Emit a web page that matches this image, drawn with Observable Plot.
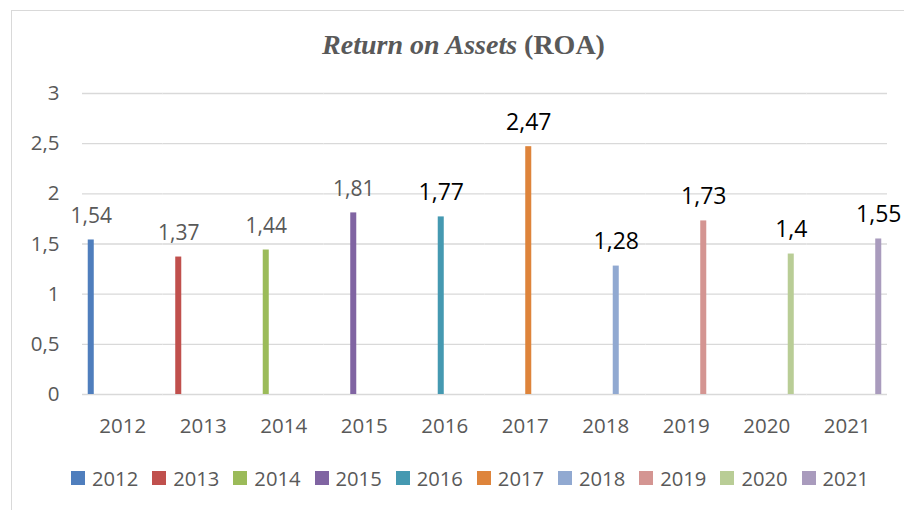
<!DOCTYPE html>
<html><head><meta charset="utf-8">
<script src="https://cdn.jsdelivr.net/npm/d3@7"></script>
<script src="https://cdn.jsdelivr.net/npm/@observablehq/plot@0.6"></script>
<style>
body{margin:0;background:#fff;width:904px;height:510px;overflow:hidden;position:relative;font-family:"Open Sans",sans-serif;}
#frame{position:absolute;left:11px;top:10px;width:920px;height:520px;border:1px solid #d9d9d9;box-sizing:border-box;}
#title{position:absolute;left:0;width:927px;top:31px;text-align:center;font-family:"Liberation Serif","Times New Roman",serif;font-size:28px;font-weight:bold;color:#595959;line-height:1;}
#chart{position:absolute;left:0;top:0;}
#legend{position:absolute;left:71px;top:464px;}
#legend .lg-swatches{font-family:"Open Sans",sans-serif;font-size:20.2px;color:#595959;min-height:0;margin:0 !important;}
#legend .lg-swatch{margin-right:14px;}
#legend .lg-swatch > svg{margin-right:7px;}
</style>
</head><body>
<div id="frame"></div>
<div id="title"><i>Return on Assets</i> (ROA)</div>
<div id="chart"></div>
<div id="legend"></div>
<script>
const years = ["2012","2013","2014","2015","2016","2017","2018","2019","2020","2021"];
const roa = [1.54, 1.37, 1.44, 1.81, 1.77, 2.47, 1.28, 1.73, 1.4, 1.55];
const colors = ["#4F7EBD","#C0504D","#9BBB59","#8064A2","#4599B1","#DE843B","#91A9D1","#D49592","#B9CD96","#A99BBD"];
const yTicks = [0, 0.5, 1, 1.5, 2, 2.5, 3];

const data = years.map((y, i) => ({cat: y, series: y, value: roa[i]}));
const fmt = d => String(d).replace(".", ",");
const grey = data.filter(d => +d.cat <= 2015);
const dark = data.filter(d => +d.cat > 2015);

const plot = Plot.plot({
  width: 904,
  height: 450,
  marginLeft: 82,
  marginRight: 17,
  marginTop: 93,
  marginBottom: 56,
  style: {fontFamily: "'Open Sans', sans-serif", fontSize: "20.5px", color: "#595959", background: "transparent", overflow: "visible"},
  fx: {domain: years, padding: 0, round: false, label: null, axis: null},
  x: {domain: years, paddingInner: 0.14, paddingOuter: 0.82, round: false, axis: null},
  y: {domain: [0, 3], label: null, axis: null},
  color: {domain: years, range: colors},
  marks: [
    Plot.gridY(yTicks, {stroke: "#d9d9d9", strokeOpacity: 1, strokeWidth: 1.3}),
    Plot.axisY(yTicks, {tickSize: 0, tickPadding: 23, tickFormat: fmt, label: null, fill: "#595959"}),
    Plot.axisFx({anchor: "bottom", tickSize: 0, tickPadding: 24, label: null, fill: "#595959"}),
    Plot.barY(data, {fx: "cat", x: "series", y: "value", fill: "series"}),
    Plot.text(grey, {fx: "cat", x: "series", y: "value", text: d => fmt(d.value), lineAnchor: "bottom", dy: -17, fontSize: 21, fill: "#595959"}),
    Plot.text(dark, {fx: "cat", x: "series", y: "value", text: d => fmt(d.value), lineAnchor: "bottom", dy: -17, fontSize: 23, fill: "#000000"})
  ]
});
document.getElementById("chart").appendChild(plot);
const lg = plot.legend("color", {legend: "swatches", swatchSize: 14, className: "lg"});
document.getElementById("legend").appendChild(lg);
</script>
</body></html>
